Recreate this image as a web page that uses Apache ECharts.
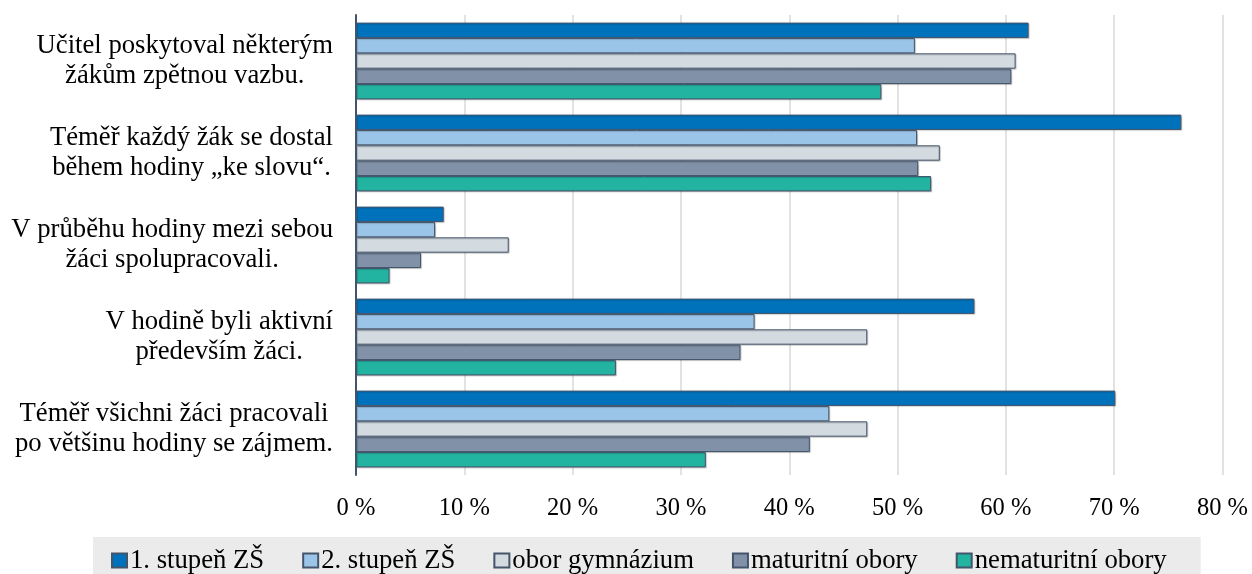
<!DOCTYPE html>
<html>
<head>
<meta charset="utf-8">
<script src="https://cdn.jsdelivr.net/npm/echarts@6/dist/echarts.min.js"></script>
<style>
html,body{margin:0;padding:0;background:#fff;font-family:'Liberation Serif';}
#chart{width:1252px;height:574px;}
</style>
</head>
<body>
<div id="chart"></div>
<script>
var categories = [
  'Učitel poskytoval některým\nžákům zpětnou vazbu.',
  'Téměř každý žák se dostal\nběhem hodiny \u201Eke slovu\u201C.',
  'V průběhu hodiny mezi sebou\nžáci spolupracovali.',
  'V hodině byli aktivní\npředevším žáci.',
  'Téměř všichni žáci pracovali\npo většinu hodiny se zájmem.'
];
var seriesNames = ['1. stupeň ZŠ', '2. stupeň ZŠ', 'obor gymnázium', 'maturitní obory', 'nematuritní obory'];
var stupen1 = [62.1, 76.2, 8.1, 57.1, 70.1];
var stupen2 = [51.6, 51.8, 7.3, 36.8, 43.7];
var gymnazium = [60.9, 53.9, 14.1, 47.2, 47.2];
var maturitni = [60.5, 51.9, 6.0, 35.5, 41.9];
var nematuritni = [48.5, 53.1, 3.1, 24.0, 32.3];
var tickValues = [0, 10, 20, 30, 40, 50, 60, 70, 80];

var seriesData = [stupen1, stupen2, gymnazium, maturitni, nematuritni];
var colors = ['#0072BB', '#9BC5E8', '#D3DAE0', '#8091A8', '#22B3A1'];
var FONT = 'Liberation Serif';

var chart = echarts.init(document.getElementById('chart'), null, {renderer: 'canvas'});

var series = seriesNames.map(function (name, i) {
  return {
    name: name,
    type: 'bar',
    data: seriesData[i],
    barGap: '0%',
    barCategoryGap: '16.5%',
    itemStyle: {
      color: colors[i],
      borderColor: '#44546A',
      borderWidth: 1,
      shadowColor: 'rgba(0,0,0,0.18)',
      shadowOffsetX: 1,
      shadowOffsetY: 1,
      shadowBlur: 1
    },
    emphasis: {disabled: true},
    animation: false
  };
});

chart.setOption({
  animation: false,
  backgroundColor: '#ffffff',
  textStyle: {fontFamily: FONT},
  grid: {left: 356, right: 29.5, top: 15, bottom: 99, containLabel: false},
  xAxis: {
    type: 'value',
    min: tickValues[0],
    max: tickValues[tickValues.length - 1],
    interval: 10,
    axisLine: {show: false},
    axisTick: {show: false},
    splitLine: {show: true, lineStyle: {color: '#D9D9D9', width: 1.5}},
    axisLabel: {
      formatter: '{value} %',
      color: '#000',
      fontFamily: FONT,
      fontSize: 24.5,
      margin: 21
    }
  },
  yAxis: {
    type: 'category',
    data: categories,
    inverse: true,
    axisLine: {show: true, lineStyle: {color: '#44546A', width: 2}},
    axisTick: {show: false},
    splitLine: {show: false},
    axisLabel: {
      margin: 23,
      color: '#000',
      fontFamily: FONT,
      fontSize: 26.7,
      lineHeight: 30,
      formatter: function (v) {
        return v.split('\n').map(function (l) { return '{c|' + l + '}'; }).join('\n');
      },
      rich: {
        c: {align: 'center', fontFamily: FONT, fontSize: 26.7, lineHeight: 30, color: '#000'}
      }
    }
  },
  legend: {
    data: seriesNames,
    left: 93,
    top: 537,
    orient: 'horizontal',
    backgroundColor: '#EBEBEB',
    padding: [10, 34, 12, 18],
    itemGap: 38,
    itemWidth: 15,
    itemHeight: 14,
    icon: 'rect',
    selectedMode: false,
    textStyle: {
      color: '#000',
      fontFamily: FONT,
      fontSize: 26.7,
      padding: [0, 0, 0, -2]
    }
  },
  series: series
});
</script>
</body>
</html>
